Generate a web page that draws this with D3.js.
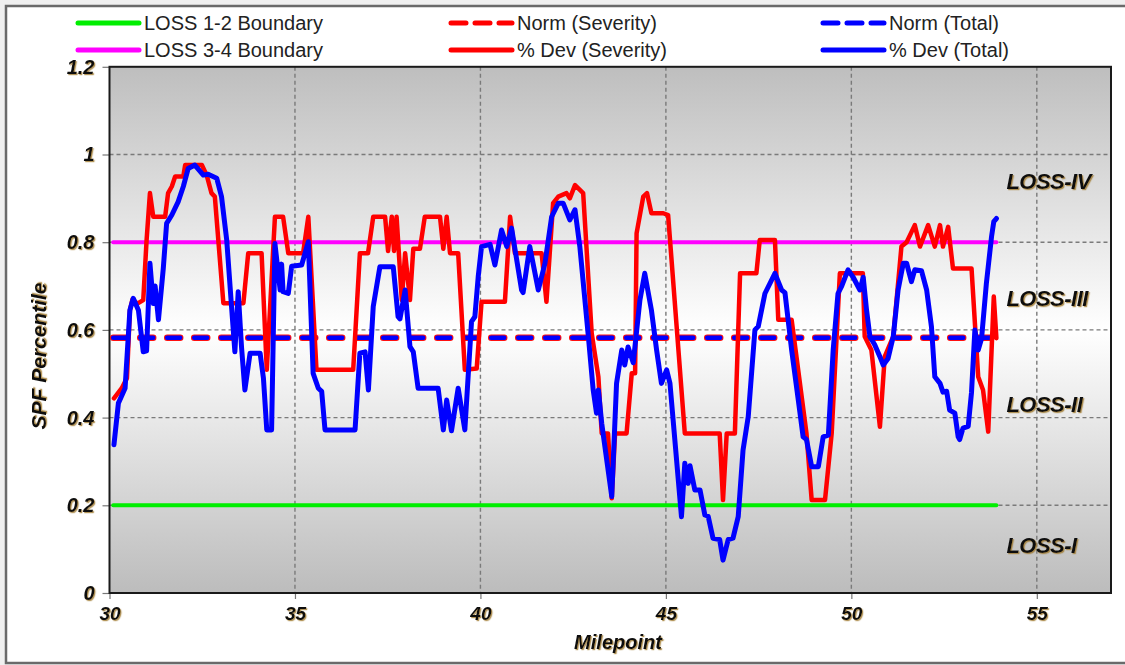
<!DOCTYPE html>
<html>
<head>
<meta charset="utf-8">
<script src="https://cdn.jsdelivr.net/npm/d3@7"></script>
<style>
  html, body { margin: 0; padding: 0; background: #fff; }
  svg { display: block; font-family: "Liberation Sans", Arial, sans-serif; }
  .tick-lab { font-weight: bold; font-style: italic; font-size: 19px; fill: #111; }
  .legend-text { font-size: 20px; fill: #222; }
</style>
</head>
<body>
<svg id="chart" width="1125" height="665"></svg>
<script>
// --- Data ---

// % Dev (Severity)
const sevMile = [30.12,30.33,30.47,30.55,30.62,30.75,30.91,31.00,31.09,31.18,31.50,31.58,31.68,31.77,31.99,32.04,32.49,32.62,32.75,32.84,
  33.07,33.61,33.74,34.10,34.24,34.46,34.68,34.82,35.22,35.36,35.58,36.57,36.75,36.97,37.11,37.43,37.51,37.61,37.67,37.74,
  37.88,37.97,38.10,38.19,38.37,38.50,38.91,39.00,39.09,39.18,39.40,39.58,39.90,40.03,40.66,40.80,40.93,41.65,41.78,41.96,
  42.10,42.32,42.41,42.55,42.77,43.00,43.18,43.27,43.44,43.54,43.63,43.94,44.08,44.17,44.21,44.39,44.49,44.61,44.93,45.06,
  45.51,46.45,46.54,46.64,46.86,47.00,47.44,47.53,47.94,48.03,48.39,48.79,48.93,49.29,49.47,49.69,50.31,50.36,50.54,50.77,
  50.90,51.13,51.35,51.49,51.71,51.85,52.07,52.25,52.39,52.47,52.61,52.74,53.24,53.42,53.55,53.69,53.84,53.91];
const sevDev = [0.444,0.467,0.49,0.645,0.67,0.66,0.668,0.805,0.912,0.858,0.858,0.912,0.927,0.95,0.95,0.976,0.976,0.953,0.912,0.904,
  0.661,0.661,0.775,0.775,0.509,0.858,0.858,0.775,0.775,0.858,0.509,0.509,0.775,0.775,0.858,0.858,0.78,0.858,0.78,0.858,
  0.668,0.775,0.668,0.785,0.785,0.858,0.858,0.785,0.858,0.775,0.775,0.509,0.512,0.664,0.664,0.858,0.775,0.775,0.664,0.889,
  0.904,0.912,0.90,0.93,0.912,0.592,0.493,0.364,0.364,0.216,0.364,0.364,0.501,0.501,0.82,0.904,0.912,0.866,0.866,0.862,
  0.364,0.364,0.212,0.364,0.364,0.729,0.729,0.805,0.805,0.623,0.623,0.364,0.212,0.212,0.364,0.729,0.729,0.585,0.554,0.379,
  0.539,0.585,0.79,0.80,0.839,0.79,0.839,0.79,0.839,0.79,0.835,0.74,0.74,0.493,0.463,0.368,0.676,0.581];

// % Dev (Total)
const totMile = [30.12,30.24,30.42,30.55,30.64,30.78,30.91,31.00,31.09,31.18,31.23,31.32,31.45,31.54,31.68,31.85,31.99,32.12,32.30,32.53,
  32.66,32.89,33.02,33.16,33.29,33.38,33.47,33.56,33.65,33.79,34.06,34.15,34.24,34.37,34.46,34.60,34.64,34.68,34.82,34.91,
  35.18,35.36,35.49,35.63,35.72,35.81,36.62,36.75,36.89,36.98,37.11,37.29,37.65,37.78,37.83,37.97,38.10,38.19,38.32,38.86,
  39.00,39.09,39.22,39.40,39.58,39.76,39.85,39.94,40.03,40.26,40.39,40.57,40.71,40.84,41.11,41.15,41.33,41.56,41.74,41.92,
  42.10,42.23,42.41,42.55,42.68,42.91,43.04,43.13,43.18,43.27,43.54,43.67,43.81,43.89,43.98,44.12,44.30,44.43,44.61,44.75,
  44.88,45.02,45.11,45.42,45.51,45.60,45.65,45.78,45.92,46.05,46.14,46.27,46.45,46.54,46.68,46.81,46.95,47.08,47.22,47.40,
  47.49,47.67,47.94,48.12,48.21,48.39,48.57,48.70,48.79,48.93,49.11,49.24,49.38,49.51,49.64,49.74,49.91,50.05,50.23,50.32,
  50.41,50.50,50.63,50.77,50.86,50.99,51.13,51.26,51.40,51.49,51.62,51.71,51.89,52.03,52.16,52.25,52.39,52.47,52.57,52.65,
  52.79,52.88,52.92,53.01,53.15,53.24,53.33,53.42,53.51,53.64,53.78,53.84,53.91];
const totDev = [0.338,0.433,0.467,0.645,0.672,0.645,0.550,0.552,0.752,0.66,0.70,0.623,0.74,0.843,0.862,0.892,0.927,0.968,0.976,0.953,
  0.955,0.946,0.904,0.805,0.653,0.550,0.687,0.56,0.463,0.547,0.547,0.49,0.372,0.372,0.797,0.691,0.75,0.687,0.683,0.745,
  0.748,0.801,0.501,0.467,0.46,0.372,0.372,0.547,0.55,0.463,0.653,0.744,0.744,0.630,0.625,0.691,0.562,0.55,0.467,0.467,
  0.372,0.44,0.37,0.467,0.372,0.619,0.630,0.721,0.790,0.795,0.748,0.828,0.790,0.832,0.691,0.685,0.790,0.691,0.752,0.858,
  0.889,0.889,0.851,0.874,0.790,0.585,0.463,0.410,0.463,0.387,0.220,0.478,0.554,0.52,0.561,0.525,0.668,0.729,0.645,0.554,
  0.478,0.509,0.478,0.174,0.296,0.25,0.29,0.235,0.235,0.178,0.175,0.125,0.122,0.075,0.122,0.125,0.174,0.326,0.402,0.600,
  0.608,0.683,0.729,0.691,0.685,0.554,0.440,0.356,0.350,0.288,0.288,0.356,0.360,0.554,0.683,0.70,0.737,0.72,0.691,0.72,
  0.645,0.585,0.566,0.539,0.520,0.535,0.585,0.691,0.752,0.752,0.710,0.737,0.735,0.691,0.607,0.493,0.478,0.458,0.46,0.417,
  0.41,0.356,0.350,0.376,0.380,0.458,0.600,0.554,0.58,0.706,0.813,0.847,0.854];

// flat reference lines (value, and the milepoint span they cover)
const lineSpan = [30.1, 53.91];
const boundary12 = 0.2;
const boundary34 = 0.8;
const normSeverity = 0.582;
const normTotal = 0.582;

const xTicks = [30, 35, 40, 45, 50, 55];
const yTicks = [0, 0.2, 0.4, 0.6, 0.8, 1, 1.2];
const gridX = [35, 40, 45, 50, 55];
const gridY = [0.2, 0.4, 0.6, 0.8, 1];

const lossNames = ["LOSS-IV", "LOSS-III", "LOSS-II", "LOSS-I"];
const lossLevels = [0.94, 0.672, 0.43, 0.108];

const legendNames = ["LOSS 1-2 Boundary", "LOSS 3-4 Boundary", "Norm (Severity)", "% Dev (Severity)", "Norm (Total)", "% Dev (Total)"];

// --- Setup ---
const svg = d3.select("#chart");
const W = 1125, H = 665;
const plot = { left: 109.5, right: 1111, top: 66.8, bottom: 593 };

const x = d3.scaleLinear().domain([30, 57]).range([plot.left, plot.right]);
const y = d3.scaleLinear().domain([0, 1.2]).range([plot.bottom, plot.top]);

const defs = svg.append("defs");
const grad = defs.append("linearGradient").attr("id", "bg").attr("x1", 0).attr("y1", 0).attr("x2", 0).attr("y2", 1);
grad.append("stop").attr("offset", "0%").attr("stop-color", "#bebebe");
grad.append("stop").attr("offset", "50%").attr("stop-color", "#ffffff");
grad.append("stop").attr("offset", "100%").attr("stop-color", "#bcbcbc");

const shadow = defs.append("filter").attr("id", "shadow").attr("x", "-10%").attr("y", "-20%").attr("width", "130%").attr("height", "150%");
shadow.append("feDropShadow").attr("dx", 1.2).attr("dy", 1.2).attr("stdDeviation", 0.6)
  .attr("flood-color", "#a07a30").attr("flood-opacity", 0.8);

// outer frame
svg.append("rect").attr("x", 0).attr("y", 0).attr("width", W).attr("height", H).attr("fill", "#f0f0f0");
svg.append("rect").attr("x", 6).attr("y", 6).attr("width", 1130).attr("height", 657)
  .attr("fill", "#fff").attr("stroke", "#6a6a6a").attr("stroke-width", 2.5);

// plot background
svg.append("rect")
  .attr("x", plot.left).attr("y", plot.top)
  .attr("width", plot.right - plot.left).attr("height", plot.bottom - plot.top)
  .attr("fill", "url(#bg)");

// gridlines
const grid = svg.append("g").attr("stroke", "#7a7a7a").attr("stroke-width", 1.4).attr("stroke-dasharray", "4,3");
grid.selectAll(".gx").data(gridX).join("line")
  .attr("x1", d => x(d)).attr("x2", d => x(d)).attr("y1", plot.top).attr("y2", plot.bottom);
grid.selectAll(".gy").data(gridY).join("line")
  .attr("x1", plot.left).attr("x2", plot.right).attr("y1", d => y(d)).attr("y2", d => y(d));

// axes
const yAxis = svg.append("g").attr("transform", `translate(${plot.left},0)`)
  .call(d3.axisLeft(y).tickValues(yTicks).tickFormat(d => String(+d.toFixed(1))).tickSize(7).tickPadding(8));
const xAxis = svg.append("g").attr("transform", `translate(0,${plot.bottom})`)
  .call(d3.axisBottom(x).tickValues(xTicks).tickFormat(d => d).tickSize(6).tickPadding(8));
[xAxis, yAxis].forEach(a => {
  a.select(".domain").remove();
  a.selectAll(".tick line").attr("stroke", "#777").attr("stroke-width", 1.2);
  a.selectAll(".tick text").attr("class", "tick-lab").attr("filter", "url(#shadow)");
});
yAxis.selectAll(".tick text").style("font-size", "20px");

// plot border
svg.append("rect")
  .attr("x", plot.left).attr("y", plot.top)
  .attr("width", plot.right - plot.left).attr("height", plot.bottom - plot.top)
  .attr("fill", "none").attr("stroke", "#1a1a1a").attr("stroke-width", 2);

// series
const line = d3.line().x(d => x(d[0])).y(d => y(d[1]));
const flat = v => lineSpan.map(m => [m, v]);
const series = svg.append("g").attr("fill", "none").attr("stroke-linejoin", "round").attr("stroke-linecap", "round");

series.append("path").attr("d", line(flat(boundary12))).attr("stroke", "#00ee00").attr("stroke-width", 4);
series.append("path").attr("d", line(flat(boundary34))).attr("stroke", "#ff00ff").attr("stroke-width", 4);
series.append("path").attr("d", line(flat(normSeverity))).attr("stroke", "#ff1010").attr("stroke-width", 6.5)
  .attr("stroke-dasharray", "13,14");
series.append("path").attr("d", line(flat(normTotal))).attr("stroke", "#0000ff").attr("stroke-width", 4.5)
  .attr("stroke-dasharray", "13,14");
series.append("path").attr("d", line(d3.zip(sevMile, sevDev))).attr("stroke", "#ff0000").attr("stroke-width", 4.5);
series.append("path").attr("d", line(d3.zip(totMile, totDev))).attr("stroke", "#0000ff").attr("stroke-width", 5);

// LOSS region labels
svg.append("g").selectAll("text").data(lossNames).join("text")
  .attr("x", x(54.18)).attr("y", (d, i) => y(lossLevels[i]))
  .attr("dy", "0.35em")
  .attr("font-size", 22).attr("font-weight", "bold").attr("font-style", "italic")
  .attr("letter-spacing", -0.5).attr("fill", "#111").attr("filter", "url(#shadow)")
  .text(d => d);

// axis titles
svg.append("text")
  .attr("transform", "translate(46,356) rotate(-90)")
  .attr("text-anchor", "middle").attr("font-size", 21).attr("font-weight", "bold").attr("font-style", "italic")
  .attr("fill", "#111").attr("filter", "url(#shadow)")
  .text("SPF Percentile");
svg.append("text")
  .attr("x", 618).attr("y", 649)
  .attr("text-anchor", "middle").attr("font-size", 20).attr("font-weight", "bold").attr("font-style", "italic")
  .attr("fill", "#111").attr("filter", "url(#shadow)")
  .text("Milepoint");

// legend: 3 columns x 2 rows
const legendCols = [78, 451, 823];
const legendRows = [23, 50];
const legendStyle = [
  { color: "#00ee00", dash: null },
  { color: "#ff00ff", dash: null },
  { color: "#ff0000", dash: "15,9" },
  { color: "#ff0000", dash: null },
  { color: "#0000ff", dash: "15,9" },
  { color: "#0000ff", dash: null }
];
const legend = svg.append("g");
legendNames.forEach((name, i) => {
  const cx = legendCols[Math.floor(i / 2)], cy = legendRows[i % 2];
  legend.append("line")
    .attr("x1", cx).attr("x2", cx + 61).attr("y1", cy).attr("y2", cy)
    .attr("stroke", legendStyle[i].color).attr("stroke-width", 5).attr("stroke-linecap", "round")
    .attr("stroke-dasharray", legendStyle[i].dash);
  legend.append("text")
    .attr("class", "legend-text")
    .attr("x", cx + 66).attr("y", cy).attr("dy", "0.36em")
    .text(name);
});
</script>
</body>
</html>
